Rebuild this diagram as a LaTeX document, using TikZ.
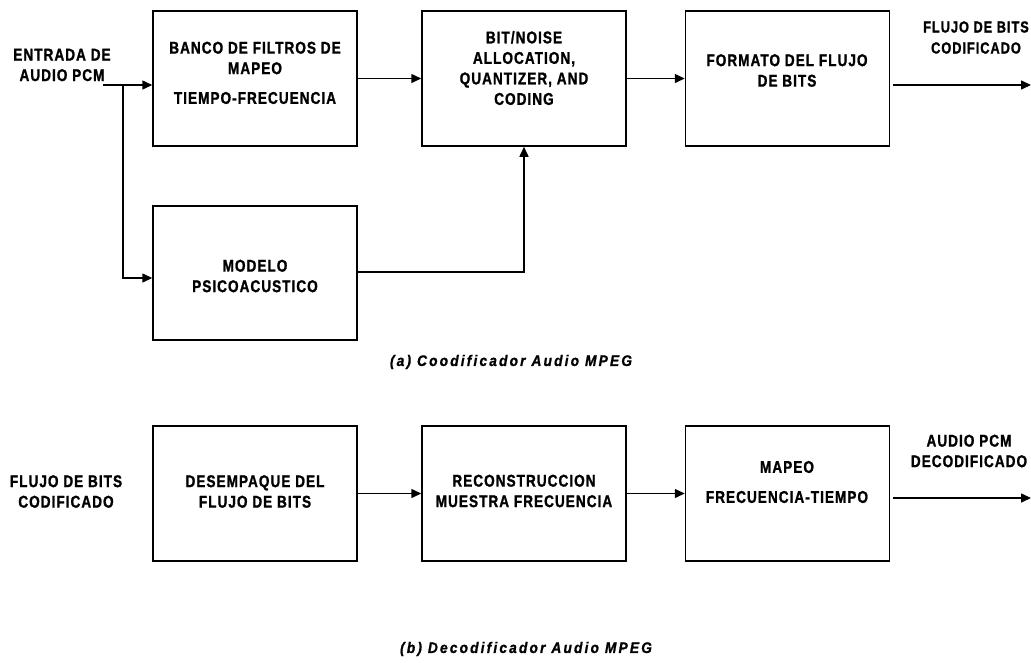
\documentclass[tikz,border=0pt]{standalone}
\usepackage{fontspec}
\usetikzlibrary{arrows.meta}
\setmainfont{Liberation Sans}
% condensed heavy capitals for the block labels
\newfontfamily\blkfont{Liberation Sans}[FakeStretch=0.8,LetterSpace=6,FakeBold=1.2]
% slanted captions with wide spacing
\newfontfamily\captfont{Liberation Sans}[FakeStretch=0.9,LetterSpace=14,FakeBold=1]
\begin{document}
\begin{tikzpicture}[x=1pt,y=-1pt,
  blk/.style={draw,line width=1.5pt,minimum width=204pt,minimum height=135pt,inner sep=0pt},
  lbl/.style={font=\blkfont\bfseries\fontsize{17}{20.5}\selectfont,align=center,inner sep=0pt},
  lblsm/.style={lbl,font=\blkfont\bfseries\fontsize{16}{21}\selectfont},
  capt/.style={font=\captfont\bfseries\itshape\fontsize{15.3}{17}\selectfont,inner sep=0pt},
  arr/.style={line width=1.5pt,-{Triangle[length=10pt,width=9pt]}}]
\useasboundingbox[fill=white] (0,0) rectangle (1031,662);

% encoder blocks
\node[blk] (b1) at (255,78.5) {};
\node[blk,minimum height=134pt] (b2) at (255,273) {};
\node[blk] (b3) at (524,78.5) {};
\node[blk] (b4) at (787.5,78.5) {};

\node[lbl] (t1a) at (255,58) {BANCO DE FILTROS DE\\MAPEO};
\node[lbl] (t1b) at (255,98) {TIEMPO-FRECUENCIA};
\node[lbl] (t2) at (255,276) {MODELO\\PSICOACUSTICO};
\node[lbl] (t3) at (524,68) {BIT/NOISE\\ALLOCATION,\\QUANTIZER, AND\\CODING};
\node[lbl] (t4) at (787,70.5) {FORMATO DEL FLUJO\\DE BITS};
\node[lbl] (tin) at (62,65) {ENTRADA DE\\AUDIO PCM};
\node[lblsm] (tout) at (976,37.5) {FLUJO DE BITS\\CODIFICADO};

\coordinate (in1) at (103,85);
\coordinate (sp) at (123,85);
\coordinate (o1s) at (893,85);
\coordinate (o1e) at (1031,85);

\draw[arr] (in1) -- (in1 -| b1.west);
\draw[arr] (sp) |- ([yshift=-5pt]b2.west);
\draw[arr] (b1.east) -- (b3.west);
\draw[arr] ([yshift=1pt]b2.east) -| (b3.south);
\draw[arr] (b3.east) -- (b4.west);
\draw[arr] (o1s) -- (o1e);

\node[capt] (ca) at (511,362) {(a) Coodificador Audio MPEG};

% decoder blocks
\node[blk] (b5) at (255,493.5) {};
\node[blk] (b6) at (524,493.5) {};
\node[blk] (b7) at (787.5,493.5) {};

\node[lbl] (tdin) at (66,491.5) {FLUJO DE BITS\\CODIFICADO};
\node[lbl] (t5) at (255,491.5) {DESEMPAQUE DEL\\FLUJO DE BITS};
\node[lbl] (t6) at (524,491) {RECONSTRUCCION\\MUESTRA FRECUENCIA};
\node[lbl] (t7a) at (787,467) {MAPEO};
\node[lbl] (t7b) at (787,497) {FRECUENCIA-TIEMPO};
\node[lbl] (tdout) at (969,451) {AUDIO PCM\\DECODIFICADO};

\coordinate (o2s) at (893,498);
\coordinate (o2e) at (1031,498);

\draw[arr] (b5.east) -- (b6.west);
\draw[arr] (b6.east) -- (b7.west);
\draw[arr] (o2s) -- (o2e);

\node[capt] (cb) at (526,649) {(b) Decodificador Audio MPEG};
\end{tikzpicture}
\end{document}
